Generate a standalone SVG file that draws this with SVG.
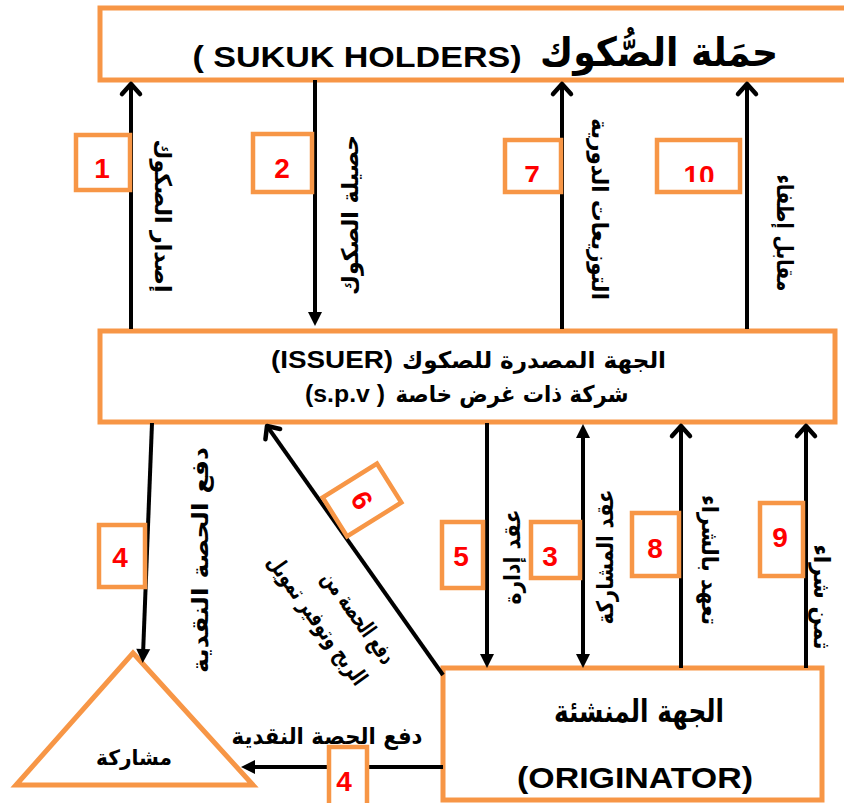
<svg xmlns="http://www.w3.org/2000/svg" width="844" height="803" viewBox="0 0 844 803">
<style>
.box{fill:#fff;stroke:#F79646;stroke-width:5}
.nb{fill:#fff;stroke:#F79646;stroke-width:4.5}
.num{font-family:"Liberation Sans","DejaVu Sans",sans-serif;font-weight:bold;font-size:28px;fill:#FF0000;text-anchor:middle}
.ar{font-family:"DejaVu Sans","Noto Sans",sans-serif;font-weight:bold;fill:#000;text-anchor:middle}
.en{font-family:"Liberation Sans","DejaVu Sans",sans-serif;font-weight:bold;fill:#000;text-anchor:middle}
.vl{font-family:"DejaVu Sans","Noto Sans",sans-serif;font-weight:bold;font-size:23px;fill:#000;text-anchor:middle}
.ln{stroke:#000;stroke-width:4;fill:none}
</style>
<defs>
<marker id="chev" viewBox="-14 -14 28 28" markerWidth="28" markerHeight="28" refX="0" refY="0" orient="auto" markerUnits="userSpaceOnUse">
<path d="M-10,-9 L0,0 L-10,9" fill="none" stroke="#000" stroke-width="4.5" stroke-linecap="round" stroke-linejoin="round"/>
</marker>
<marker id="tri" viewBox="-10 -10 20 20" markerWidth="20" markerHeight="20" refX="0" refY="0" orient="auto-start-reverse" markerUnits="userSpaceOnUse">
<path d="M-6,-7 L8,0 L-6,7 Z" fill="#000"/>
</marker>
<clipPath id="clipTop"><rect x="0" y="0" width="844" height="182"/></clipPath>
</defs>

<g id="holders">
<rect class="box" x="100" y="8" width="760" height="72"/>
<text class="en" x="357" y="67" font-size="30" textLength="329" lengthAdjust="spacingAndGlyphs">( SUKUK HOLDERS)</text>
<text class="ar" x="659" y="66" font-size="40" textLength="238" lengthAdjust="spacingAndGlyphs">حمَلة الصُّكوك</text>
</g>

<g id="issuer">
<rect class="box" x="100" y="331" width="735" height="91"/>
<text class="en" x="332" y="368" font-size="23" textLength="122" lengthAdjust="spacingAndGlyphs">(ISSUER)</text>
<text class="ar" x="534" y="368" font-size="23" textLength="264" lengthAdjust="spacingAndGlyphs">الجهة المصدرة للصكوك</text>
<text class="en" x="345" y="402" font-size="23" textLength="80" lengthAdjust="spacingAndGlyphs" direction="ltr">(s.p.v )</text>
<text class="ar" x="512" y="402" font-size="23" textLength="233" lengthAdjust="spacingAndGlyphs">شركة ذات غرض خاصة</text>
</g>

<g id="originator">
<rect class="box" x="443" y="668" width="379" height="132"/>
<text class="ar" x="639" y="722" font-size="31" textLength="170" lengthAdjust="spacingAndGlyphs">الجهة المنشئة</text>
<text class="en" x="635" y="788" font-size="30" textLength="236" lengthAdjust="spacingAndGlyphs">(ORIGINATOR)</text>
</g>

<g id="musharaka">
<polygon class="box" points="133,653 253,785 16,785" stroke-linejoin="miter"/>
<text class="ar" x="134" y="765" font-size="21" textLength="76" lengthAdjust="spacingAndGlyphs">مشاركة</text>
</g>

<g id="connectors">
<line class="ln" x1="131" y1="329" x2="131" y2="84" marker-end="url(#chev)"/>
<line class="ln" x1="315" y1="80" x2="315" y2="318" marker-end="url(#tri)"/>
<line class="ln" x1="562" y1="329" x2="562" y2="84" marker-end="url(#chev)"/>
<line class="ln" x1="747" y1="329" x2="747" y2="84" marker-end="url(#chev)"/>
<line class="ln" x1="152" y1="423" x2="143" y2="655" marker-end="url(#tri)"/>
<line class="ln" x1="443" y1="675" x2="267" y2="426" marker-end="url(#chev)"/>
<line class="ln" x1="487" y1="423" x2="487" y2="660" marker-end="url(#tri)"/>
<line class="ln" x1="583" y1="432" x2="583" y2="660" marker-start="url(#tri)" marker-end="url(#tri)"/>
<line class="ln" x1="681" y1="668" x2="681" y2="426" marker-end="url(#chev)"/>
<line class="ln" x1="806" y1="668" x2="806" y2="426" marker-end="url(#chev)"/>
<line class="ln" x1="443" y1="767" x2="249" y2="767" marker-end="url(#tri)"/>
</g>

<g id="labels">
<text class="vl" transform="translate(163,216) rotate(90)" y="8" textLength="153" lengthAdjust="spacingAndGlyphs">إصدار الصكوك</text>
<text class="vl" transform="translate(350,215) rotate(-90)" y="8" textLength="160" lengthAdjust="spacingAndGlyphs">حصيلة الصكوك</text>
<text class="vl" transform="translate(600,209) rotate(90)" y="8" textLength="182" lengthAdjust="spacingAndGlyphs">التوزيعات الدورية</text>
<text class="vl" transform="translate(785,233) rotate(90)" y="8" textLength="117" lengthAdjust="spacingAndGlyphs">مقابل إطفاء</text>
<text class="vl" transform="translate(200,560) rotate(-90)" y="8" textLength="226" lengthAdjust="spacingAndGlyphs">دفع الحصة النقدية</text>
<text class="vl" transform="translate(512,557) rotate(-90)" y="8" textLength="95" lengthAdjust="spacingAndGlyphs">عقد إدارة</text>
<text class="vl" transform="translate(605,557) rotate(-90)" y="8" textLength="135" lengthAdjust="spacingAndGlyphs">عقد المشاركة</text>
<text class="vl" transform="translate(710,560) rotate(90)" y="8" textLength="130" lengthAdjust="spacingAndGlyphs">تعهد بالشراء</text>
<text class="vl" transform="translate(822,597) rotate(90)" y="8" textLength="105" lengthAdjust="spacingAndGlyphs">ثمن شراء</text>
<g transform="translate(358,618) rotate(54.5)">
<text class="vl" x="0" y="7" textLength="108" lengthAdjust="spacingAndGlyphs">دفع الحصة من</text>
<text class="vl" x="-22" y="42" textLength="154" lengthAdjust="spacingAndGlyphs">الربح وتوفير تمويل</text>
</g>
<text class="vl" x="327" y="744" textLength="191" lengthAdjust="spacingAndGlyphs">دفع الحصة النقدية</text>
</g>

<g id="n1"><rect class="nb" x="76" y="135" width="54" height="55"/><text class="num" x="102" y="178">1</text></g>
<g id="n2"><rect class="nb" x="253" y="134" width="59" height="58"/><text class="num" x="282" y="178">2</text></g>
<g id="n7"><rect class="nb" x="505" y="140" width="56" height="52"/><text class="num" x="532" y="185" clip-path="url(#clipTop)">7</text></g>
<g id="n10"><rect class="nb" x="657" y="140" width="83" height="52"/><text class="num" x="699" y="185" clip-path="url(#clipTop)">10</text></g>
<g id="n4a"><rect class="nb" x="99" y="525" width="46" height="62"/><text class="num" x="120" y="567">4</text></g>
<g id="n6"><g transform="translate(362,500) rotate(58)"><rect class="nb" x="-23" y="-32" width="46" height="64"/><text class="num" x="0" y="10">6</text></g></g>
<g id="n5"><rect class="nb" x="442" y="522" width="41" height="66"/><text class="num" x="461" y="566">5</text></g>
<g id="n3"><rect class="nb" x="531" y="522" width="49" height="56"/><text class="num" x="550" y="566">3</text></g>
<g id="n8"><rect class="nb" x="632" y="513" width="47" height="63"/><text class="num" x="655" y="558">8</text></g>
<g id="n9"><rect class="nb" x="760" y="503" width="43" height="73"/><text class="num" x="780" y="547">9</text></g>
<g id="n4b"><rect class="nb" x="329" y="747" width="38" height="60"/><text class="num" x="344" y="791">4</text></g>
</svg>
